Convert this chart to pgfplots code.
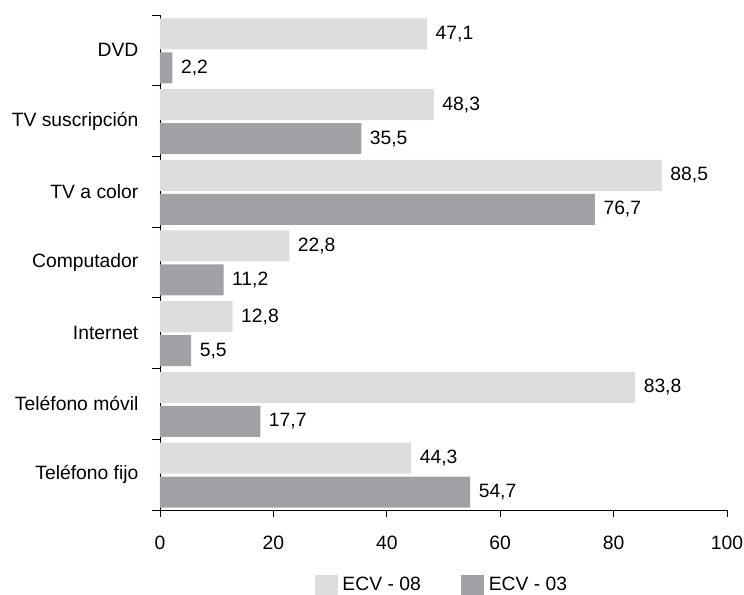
\documentclass[border=0pt]{standalone}
\usepackage{fontspec}
\setmainfont{Liberation Sans}
\usepackage{pgfplots}
\pgfplotsset{compat=1.18}
\definecolor{lightbar}{HTML}{DCDDDF}
\definecolor{darkbar}{HTML}{A0A1A4}
\begin{document}
\fontsize{19.3bp}{23bp}\selectfont
\begin{tikzpicture}
\useasboundingbox (-160bp,-85bp) rectangle (584bp,510bp);
\begin{axis}[
  at={(0,0)}, anchor=south west,
  scale only axis, width=567bp, height=495bp,
  xbar, xmin=0, xmax=100, ymin=-0.5, ymax=6.5,
  axis x line*=bottom, axis y line*=left,
  axis line style={black, line width=0.9bp},
  every tick/.style={black, line width=0.9bp},
  xtick={0,20,...,100},
  ytick={0,...,6},
  yticklabels={Teléfono fijo, Teléfono móvil, Internet, Computador, TV a color, TV suscripción, DVD},
  minor ytick={-0.5,0.5,...,6.5},
  tick align=outside,
  major tick length=7bp, minor tick length=8bp,
  major y tick style={draw=none},
  /pgf/number format/assume math mode=true,
  xticklabel style={yshift=-12bp},
  yticklabel style={xshift=-8bp},
  bar width=31bp,
  point meta=x,
  nodes near coords={\pgfmathprintnumber[use comma,fixed,fixed zerofill,precision=1,assume math mode=true]{\pgfplotspointmeta}},
  every node near coord/.append style={xshift=2bp, black},
  legend columns=2,
  legend style={draw=none, at={(rel axis cs:0.497,-0.1515)}, anchor=center,
    /tikz/every odd column/.append style={column sep=3bp},
    /tikz/every even column/.append style={column sep=38bp}},
  legend image code/.code={\path[#1,draw=none] (0bp,-10bp) rectangle (23bp,10bp);},
]
\addplot[fill=lightbar, draw=none, bar shift=16.5bp] coordinates {
  (44.3,0) (83.8,1) (12.8,2) (22.8,3) (88.5,4) (48.3,5) (47.1,6)};
\addplot[fill=darkbar, draw=none, bar shift=-17.5bp] coordinates {
  (54.7,0) (17.7,1) (5.5,2) (11.2,3) (76.7,4) (35.5,5) (2.2,6)};
\legend{ECV - 08, ECV - 03}
\end{axis}
\end{tikzpicture}
\end{document}
